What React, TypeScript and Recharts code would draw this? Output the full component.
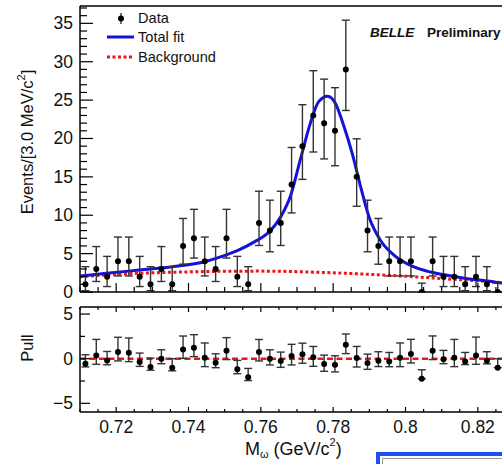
import { ComposedChart, Line, Scatter, ErrorBar, XAxis, YAxis, ReferenceLine } from "recharts"

const FONT = "Liberation Sans, Arial, Helvetica, sans-serif"

// bin centres (3 MeV bins)
const massBins = [
  0.7115, 0.7145, 0.7175, 0.7205, 0.7235, 0.7265, 0.7295, 0.7325, 0.7355, 0.7385,
  0.7415, 0.7445, 0.7475, 0.7505, 0.7535, 0.7565, 0.7595, 0.7625, 0.7655, 0.7685,
  0.7715, 0.7745, 0.7775, 0.7805, 0.7835, 0.7865, 0.7895, 0.7925, 0.7955, 0.7985,
  0.8015, 0.8045, 0.8075, 0.8105, 0.8135, 0.8165, 0.8195, 0.8225, 0.8255,
]
const counts = [
  1, 3, 2, 4, 4, 2, 1, 3, 1, 6, 7, 4, 3, 7, 2, 1, 9, 8, 9, 14,
  19, 23, 22, 21, 29, 15, 8, 6, 4, 4, 4, 0, 4, 2, 2, 1, 2, 1, 0,
]
// asymmetric poisson errors [low, high] by count
const poissonErr: Record<number, [number, number]> = {
  0: [0, 1.15], 1: [0.83, 2.3], 2: [1.29, 2.64], 3: [1.63, 2.92], 4: [1.91, 3.16],
  6: [2.38, 3.58], 7: [2.58, 3.77], 8: [2.76, 3.96], 9: [2.94, 4.13], 14: [3.7, 4.83],
  15: [3.83, 4.96], 19: [4.33, 5.4], 21: [4.55, 5.62], 22: [4.66, 5.73], 23: [4.76, 5.83],
  29: [5.35, 6.41],
}

const pulls = [
  -0.56, 0.37, -0.19, 0.75, 0.67, -0.37, -0.93, 0, -1.0, 1.04, 1.23, 0.11, -0.45, 0.9, -1.19, -2.09, 0.75, 0, -0.26, 0.3,
  0.49, 0.15, -0.6, -0.67, 1.57, 0.07, -0.49, -0.22, -0.3, 0.11, 0.52, -2.24, 0.9, -0.07, 0.11, -0.3, 0.37, -0.22, -1.0,
]
const pullErrLow = [
  0.36, 1, 0.49, 1, 1, 0.49, 0.36, 0.56, 0.36, 1, 1, 1, 0.56, 1, 0.49, 0.36, 1, 0.7, 0.71, 1,
  1, 1, 0.81, 0.81, 1, 1, 0.7, 0.66, 0.6, 1, 1, 0, 1, 0.49, 1, 0.36, 1, 0.36, 0,
]
const pullErrHigh = [
  1, 1.79, 1, 1.65, 1.65, 1, 1, 1, 1, 1.5, 1.46, 1.65, 1, 1.46, 1, 1, 1.4, 1, 1, 1.31,
  1.25, 1.22, 1, 1, 1.2, 1.3, 1, 1, 1, 1.65, 1.65, 1, 1.65, 1, 2.05, 1, 2.05, 1, 1,
]

// total fit curve
const fitMass = [
  0.71, 0.7166, 0.7258, 0.735, 0.7442, 0.7488, 0.7535, 0.7581, 0.7627, 0.7655, 0.7682, 0.7709,
  0.7737, 0.776, 0.7785, 0.7806, 0.7829, 0.7853, 0.7876, 0.7899, 0.7931, 0.7968, 0.8023, 0.8069,
  0.8115, 0.8171, 0.8226, 0.8267, 0.83,
]
const fitValues = [
  2.09, 2.4, 2.83, 3.26, 3.9, 4.57, 5.4, 6.5, 8.0, 9.8, 12.5, 17.2,
  22.0, 24.8, 25.5, 24.6, 21.7, 18.0, 13.7, 9.8, 6.7, 4.8, 3.26, 2.6,
  2.17, 1.74, 1.43, 1.17, 1.0,
]
const bgMass = [0.71, 0.72, 0.73, 0.74, 0.75, 0.76, 0.77, 0.78, 0.79, 0.8, 0.81, 0.82, 0.83]
const bgValues = [2.0, 2.3, 2.5, 2.62, 2.7, 2.72, 2.65, 2.5, 2.3, 2.05, 1.75, 1.45, 1.1]

const xMajor = [0.72, 0.74, 0.76, 0.78, 0.8, 0.82]
const xMajorLabels = ["0.72", "0.74", "0.76", "0.78", "0.8", "0.82"]
const xTicks = [
  0.71, 0.715, 0.72, 0.725, 0.73, 0.735, 0.74, 0.745, 0.75, 0.755, 0.76, 0.765, 0.77,
  0.775, 0.78, 0.785, 0.79, 0.795, 0.8, 0.805, 0.81, 0.815, 0.82, 0.825, 0.83,
]
const yTicks = [
  0, 1, 2, 3, 4, 5, 6, 7, 8, 9, 10, 11, 12, 13, 14, 15, 16, 17, 18, 19,
  20, 21, 22, 23, 24, 25, 26, 27, 28, 29, 30, 31, 32, 33, 34, 35, 36, 37,
]
const pullTicks = [-5, -2.5, 0, 2.5, 5]
const pullLabels: Record<number, string> = { 5: "5", 0: "0", [-5]: "\u22125" }

const dataPoints = massBins.map((m, i) => ({
  m,
  y: counts[i],
  err: poissonErr[counts[i]],
}))
const pullPoints = massBins.map((m, i) => ({
  m,
  y: pulls[i],
  err: [pullErrLow[i], pullErrHigh[i]],
}))
const fitData = fitMass.map((m, i) => ({ m, fit: fitValues[i] }))
const bgData = bgMass.map((m, i) => ({ m, bg: bgValues[i] }))

const X_DOMAIN: [number, number] = [0.71, 0.83]
const Y_MAX = 37.26
const PULL_DOMAIN: [number, number] = [-5.97, 5.79]

const LEFT = 80
const TOP_BOTTOM = 292
const PULL_TOP = 7
const PULL_BOTTOM = 112

const BLUE = "#1212dc"
const RED = "#ee1515"

const Dot = (p: any) => <circle cx={p.cx} cy={p.cy} r={3} fill="#000" />

const TopXTick = (p: any) => {
  const major = xMajor.includes(p.payload.value)
  return <line x1={p.x} x2={p.x} y1={TOP_BOTTOM} y2={TOP_BOTTOM - (major ? 9 : 5)} stroke="#000" strokeWidth={1.2} />
}

const PullXTick = (p: any) => {
  const idx = xMajor.indexOf(p.payload.value)
  const major = idx >= 0
  return (
    <g>
      <line x1={p.x} x2={p.x} y1={PULL_BOTTOM} y2={PULL_BOTTOM - (major ? 5 : 3)} stroke="#000" strokeWidth={1.2} />
      <line x1={p.x} x2={p.x} y1={PULL_TOP} y2={PULL_TOP + (major ? 5 : 3)} stroke="#000" strokeWidth={1.2} />
      {major && (
        <text x={p.x} y={PULL_BOTTOM + 15} textAnchor="middle" dominantBaseline="central" fontSize={17.5} fontFamily={FONT} fill="#111">
          {xMajorLabels[idx]}
        </text>
      )}
    </g>
  )
}

const TopYTick = (p: any) => {
  const v = p.payload.value
  const major = v % 5 === 0
  return (
    <g>
      <line x1={LEFT} x2={LEFT + (major ? 13 : 7)} y1={p.y} y2={p.y} stroke="#000" strokeWidth={1.2} />
      {major && (
        <text x={73} y={p.y} textAnchor="end" dominantBaseline="central" fontSize={17.5} fontFamily={FONT} fill="#111">
          {v}
        </text>
      )}
    </g>
  )
}

const PullYTick = (p: any) => {
  const v = p.payload.value
  const label = pullLabels[v]
  return (
    <g>
      <line x1={LEFT} x2={LEFT + (label ? 10 : 5)} y1={p.y} y2={p.y} stroke="#000" strokeWidth={1.2} />
      {label && (
        <text x={73} y={p.y} textAnchor="end" dominantBaseline="central" fontSize={17.5} fontFamily={FONT} fill="#111">
          {label}
        </text>
      )}
    </g>
  )
}

export default function App() {
  return (
    <div style={{ position: "fixed", left: 0, top: 0, width: 502, height: 464, overflow: "hidden", background: "#fff" }}>
      <div style={{ position: "absolute", left: 0, top: 0 }}>
        <ComposedChart width={524} height={310} margin={{ top: 6, right: 10, bottom: 0, left: 0 }}>
          <XAxis
            dataKey="m"
            type="number"
            domain={X_DOMAIN}
            allowDataOverflow
            ticks={xTicks}
            interval={0}
            height={18}
            tickLine={false}
            tick={TopXTick}
            axisLine={{ stroke: "#000", strokeWidth: 1.5 }}
          />
          <YAxis
            type="number"
            domain={[0, Y_MAX]}
            allowDataOverflow
            ticks={yTicks}
            interval={0}
            width={80}
            tickLine={false}
            tick={TopYTick}
            axisLine={{ stroke: "#000", strokeWidth: 1.5 }}
          />
          <ReferenceLine y={Y_MAX} stroke="#000" strokeWidth={1.5} />
          <Line data={bgData} dataKey="bg" type="monotone" stroke={RED} strokeWidth={3} strokeDasharray="3 2.5" dot={false} isAnimationActive={false} />
          <Line data={fitData} dataKey="fit" type="monotone" stroke={BLUE} strokeWidth={3} dot={false} isAnimationActive={false} />
          <Scatter data={dataPoints} dataKey="y" shape={Dot} isAnimationActive={false}>
            <ErrorBar dataKey="err" direction="y" width={4} stroke="#333" strokeWidth={1.4} isAnimationActive={false} />
          </Scatter>
        </ComposedChart>
      </div>
      <div style={{ position: "absolute", left: 0, top: 300 }}>
        <ComposedChart width={524} height={162} margin={{ top: PULL_TOP, right: 10, bottom: 0, left: 0 }}>
          <XAxis
            dataKey="m"
            type="number"
            domain={X_DOMAIN}
            allowDataOverflow
            ticks={xTicks}
            interval={0}
            height={50}
            tickLine={false}
            tick={PullXTick}
            axisLine={{ stroke: "#000", strokeWidth: 1.5 }}
          />
          <YAxis
            type="number"
            domain={PULL_DOMAIN}
            allowDataOverflow
            ticks={pullTicks}
            interval={0}
            width={80}
            tickLine={false}
            tick={PullYTick}
            axisLine={{ stroke: "#000", strokeWidth: 1.5 }}
          />
          <ReferenceLine y={PULL_DOMAIN[1]} stroke="#000" strokeWidth={1.5} />
          <ReferenceLine y={0} stroke={RED} strokeWidth={2.5} strokeDasharray="6 3.5" />
          <Scatter data={pullPoints} dataKey="y" shape={Dot} isAnimationActive={false}>
            <ErrorBar dataKey="err" direction="y" width={4} stroke="#333" strokeWidth={1.4} isAnimationActive={false} />
          </Scatter>
        </ComposedChart>
      </div>
      <svg width={502} height={464} style={{ position: "absolute", left: 0, top: 0, pointerEvents: "none" }} fontFamily={FONT}>
        {/* legend */}
        <line x1={121} x2={121} y1={13} y2={24} stroke="#333" strokeWidth={1.4} />
        <circle cx={121} cy={18.5} r={3} fill="#000" />
        <text x={138} y={18} dominantBaseline="central" fontSize={14.6} fill="#111">Data</text>
        <line x1={107} x2={134} y1={37} y2={37} stroke={BLUE} strokeWidth={3} />
        <text x={138} y={37} dominantBaseline="central" fontSize={14.6} fill="#111">Total fit</text>
        <line x1={107} x2={134} y1={57} y2={57} stroke={RED} strokeWidth={3} strokeDasharray="3 2.5" />
        <text x={138} y={57} dominantBaseline="central" fontSize={14.6} fill="#111">Background</text>
        {/* experiment tag */}
        <text x={370} y={32} dominantBaseline="central" fontSize={13.5} fontWeight="bold" fontStyle="italic" fill="#111">BELLE</text>
        <text x={427} y={32} dominantBaseline="central" fontSize={13.5} fontWeight="bold" fill="#111">Preliminary</text>
        {/* axis titles */}
        <text transform="translate(27,142) rotate(-90)" textAnchor="middle" dominantBaseline="central" fontSize={16.5} fill="#111">
          Events/[3.0 MeV/c<tspan dy={-6} fontSize={11}>2</tspan><tspan dy={6}>]</tspan>
        </text>
        <text transform="translate(27,348) rotate(-90)" textAnchor="middle" dominantBaseline="central" fontSize={16.5} fill="#111">
          Pull
        </text>
        <text x={245} y={449} dominantBaseline="central" fontSize={18} fill="#111">
          M<tspan dy={5} fontSize={11}>ω</tspan><tspan dy={-5}> (GeV/c</tspan><tspan dy={-7} fontSize={11}>2</tspan><tspan dy={7}>)</tspan>
        </text>
      </svg>
      <div style={{ position: "absolute", left: 376, top: 452, width: 200, height: 40, border: "4px solid #1f4cf5" }}>
        <div style={{ position: "absolute", left: 2, top: 2, right: 0, bottom: 0, border: "1px solid #999" }} />
      </div>
    </div>
  )
}
